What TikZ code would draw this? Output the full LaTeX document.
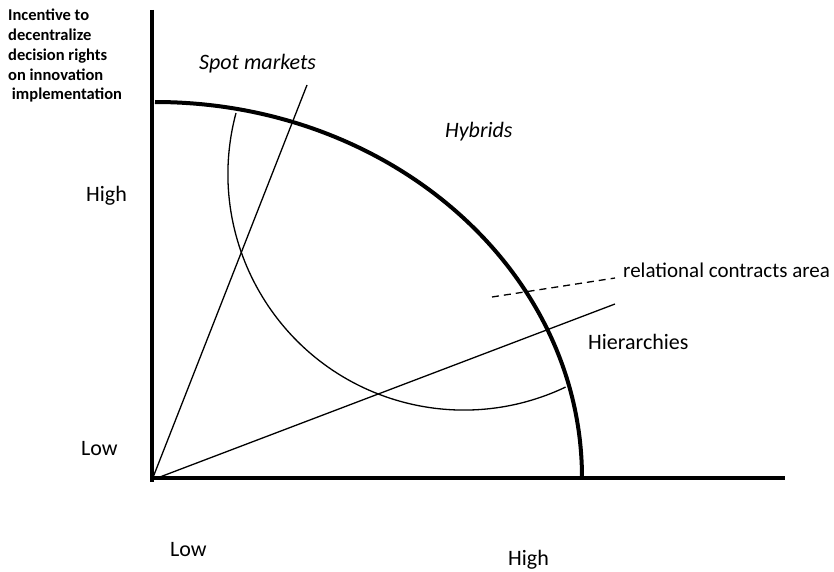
\documentclass[tikz,border=0pt]{standalone}
\usepackage{fontspec}
\setmainfont{Carlito}
\begin{document}
\begin{tikzpicture}[x=1pt,y=-1pt,
  axis/.style={line width=4pt},
  frontier/.style={line width=4pt},
  thin/.style={line width=1.3pt},
  lbl/.style={font=\fontsize{22}{26}\selectfont, inner sep=0pt},
  ilbl/.style={font=\fontsize{22}{26}\selectfont\itshape, inner sep=0pt},
  ylbl/.style={font=\fontsize{16.5}{19.8}\selectfont\bfseries, inner sep=0pt, align=left}]
\clip (0,0) rectangle (834,572);
\fill[white] (0,0) rectangle (834,572);
% coordinates
\coordinate (O) at (152,480);
\coordinate (ytop) at (152,10);
\coordinate (xend) at (785,478);
\coordinate (spot) at (307,85);
\coordinate (hier) at (615,304);
\coordinate (d1) at (492,297);
\coordinate (d2) at (615,278);
% axes
\draw[axis] (ytop) -- (152,482);
\draw[axis] (150,478) -- (xend);
% frontier (quarter ellipse)
\draw[frontier] (155,102) arc[start angle=-90, end angle=0, x radius=427, y radius=376];
% thin arc
\draw[thin] (236,113) arc[start angle=195, end angle=64.5, radius=236];
% rays
\draw[thin] (O) -- (spot);
\draw[thin] (O) -- (hier);
% dashed
\draw[thin, dashed, dash pattern=on 7pt off 5pt] (d1) -- (d2);
% labels
\node[ylbl, anchor=base west] (ylab) at (8,100) {Incentive to\\decentralize\\decision rights\\on innovation\\\ implementation};
\node[ilbl, anchor=base west] (spotlab) at (199,70) {Spot markets};
\node[ilbl, anchor=base west] (hyb) at (445,138) {Hybrids};
\node[lbl, anchor=base west] (yhigh) at (86,201) {High};
\node[lbl, anchor=base west] (ylow) at (81,455) {Low};
\node[lbl, anchor=base west, font=\fontsize{21}{25}\selectfont] (rel) at (623,277) {relational contracts area};
\node[lbl, anchor=base west] (hierlab) at (588,349) {Hierarchies};
\node[lbl, anchor=base west] (xlow) at (170,556) {Low};
\node[lbl, anchor=base west] (xhigh) at (508,565) {High};
\end{tikzpicture}
\end{document}
